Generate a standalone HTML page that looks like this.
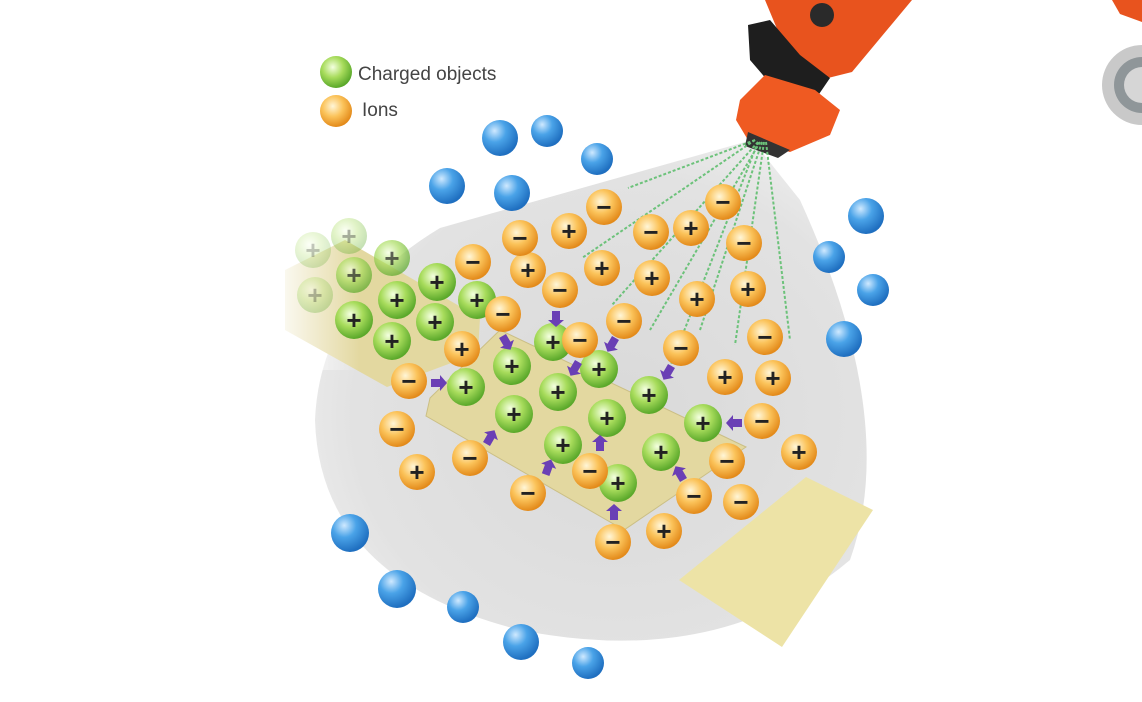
<!DOCTYPE html>
<html><head><meta charset="utf-8"><style>
html,body{margin:0;padding:0;background:#fff;}
svg{display:block}
</style></head><body>
<svg width="1142" height="702" viewBox="0 0 1142 702" xmlns="http://www.w3.org/2000/svg">
<defs>
<radialGradient id="gb" cx="35%" cy="30%" r="70%"><stop offset="0" stop-color="#cfe9ff"/><stop offset="0.45" stop-color="#4aa3e8"/><stop offset="1" stop-color="#1f6fc0"/></radialGradient>
<radialGradient id="gg" cx="40%" cy="35%" r="65%"><stop offset="0" stop-color="#f4ffe0"/><stop offset="0.5" stop-color="#a8dc5c"/><stop offset="1" stop-color="#5aa82a"/></radialGradient>
<radialGradient id="go" cx="40%" cy="35%" r="65%"><stop offset="0" stop-color="#fff6d8"/><stop offset="0.5" stop-color="#fbc35a"/><stop offset="1" stop-color="#e38a1a"/></radialGradient>
<radialGradient id="cone" cx="55%" cy="55%" r="60%"><stop offset="0" stop-color="#d9d9d9"/><stop offset="0.8" stop-color="#e2e2e2"/><stop offset="1" stop-color="#ececec"/></radialGradient>
<linearGradient id="fade" x1="0" x2="1"><stop offset="0" stop-color="#fff" stop-opacity="1"/><stop offset="1" stop-color="#fff" stop-opacity="0"/></linearGradient>
</defs>
<rect width="1142" height="702" fill="#fff"/>
<!-- cone -->
<path d="M752,140 L440,228 Q320,300 315,420 Q320,580 520,630 Q720,670 850,560 Q900,420 800,200 Z" fill="url(#cone)"/>
<!-- upper-left panel -->
<polygon points="285,270 345,240 480,318 478,353 387,387 285,330" fill="#e3d8a0"/>
<!-- main strip -->
<polygon points="426,416 430,398 500,330 746,447 624,530" fill="#e3d8a0" stroke="#cbbf85" stroke-width="1"/>
<!-- pad -->
<polygon points="679,580 806,477 873,510 782,647" fill="#ede3a6"/>
<rect x="270" y="200" width="90" height="170" fill="url(#fade)"/>
<!-- nozzle -->
<g>
<polygon points="765,0 912,0 852,72 820,80 790,60" fill="#e8531e"/>
<polygon points="748,25 770,20 800,55 830,78 815,100 780,95 750,60" fill="#1e1e1e"/>
<circle cx="822" cy="15" r="12" fill="#2a2a2a"/>
<polygon points="740,100 765,75 815,90 840,110 830,135 790,152 748,140 736,120" fill="#ef5a22"/>
<polygon points="748,132 790,150 778,158 745,146" fill="#333"/>
<polygon points="1112,0 1142,0 1142,22 1120,14" fill="#e8531e"/>
<circle cx="1142" cy="85" r="40" fill="#c9c9c9"/>
<circle cx="1142" cy="85" r="28" fill="#8f9699"/>
<circle cx="1142" cy="85" r="18" fill="#d6d6d6"/>
</g>
<!-- spray -->
<g stroke="#6cc27a" stroke-width="2" stroke-dasharray="3,2" fill="none">
<line x1="755" y1="140" x2="628" y2="188"/>
<line x1="755" y1="140" x2="582" y2="258"/>
<line x1="758" y1="142" x2="612" y2="305"/>
<line x1="760" y1="142" x2="650" y2="330"/>
<line x1="762" y1="142" x2="700" y2="330"/>
<line x1="764" y1="142" x2="735" y2="345"/>
<line x1="766" y1="142" x2="790" y2="340"/>
<line x1="758" y1="142" x2="668" y2="372"/>
</g>
<!-- legend -->
<circle cx="336" cy="72" r="16" fill="url(#gg)"/>
<circle cx="336" cy="111" r="16" fill="url(#go)"/>
<text x="358" y="80" font-family="Liberation Sans, sans-serif" font-size="19" fill="#444">Charged objects</text>
<text x="362" y="116" font-family="Liberation Sans, sans-serif" font-size="19" fill="#444">Ions</text>
<g id="balls" font-family="Liberation Sans, sans-serif" font-weight="bold" text-anchor="middle">
</g>
</svg>
<script>
const NS="http://www.w3.org/2000/svg",g=document.getElementById("balls");
function c(x,y,r,f,op){const e=document.createElementNS(NS,"circle");e.setAttribute("cx",x);e.setAttribute("cy",y);e.setAttribute("r",r);e.setAttribute("fill",f);if(op)e.setAttribute("opacity",op);g.appendChild(e);}
function t(x,y,s,op){const e=document.createElementNS(NS,"text");e.setAttribute("x",x);e.setAttribute("y",y+9);e.setAttribute("font-size",26);e.setAttribute("fill","#222");if(op)e.setAttribute("opacity",op);e.textContent=s;g.appendChild(e);}
[[500,138,18],[547,131,16],[597,159,16],[447,186,18],[512,193,18],[866,216,18],[829,257,16],[873,290,16],[844,339,18],[350,533,19],[397,589,19],[463,607,16],[521,642,18],[588,663,16]].forEach(b=>c(b[0],b[1],b[2],"url(#gb)"));
[[349,236,.35],[313,250,.25],[315,295,.3],[392,258,.7],[354,275,.7]].forEach(b=>{c(b[0],b[1],18,"url(#gg)",b[2]);t(b[0],b[1],"+",b[2]);});
[[437,282],[397,300],[477,300],[354,320],[435,322],[392,341],[553,342],[512,366],[599,369],[466,387],[558,392],[649,395],[514,414],[607,418],[703,423],[563,445],[661,452],[618,483]].forEach(b=>{c(b[0],b[1],19,"url(#gg)");t(b[0],b[1],"+");});
[[569,231],[691,228],[528,270],[602,268],[652,278],[748,289],[697,299],[462,349],[725,377],[773,378],[417,472],[799,452],[664,531]].forEach(b=>{c(b[0],b[1],18,"url(#go)");t(b[0],b[1],"+");});
[[604,207],[723,202],[520,238],[651,232],[744,243],[473,262],[560,290],[503,314],[624,321],[580,340],[681,348],[765,337],[409,381],[397,429],[762,421],[470,458],[727,461],[590,471],[528,493],[694,496],[741,502],[613,542]].forEach(b=>{c(b[0],b[1],18,"url(#go)");t(b[0],b[1],"\u2212");});
function arr(x,y,a){const e=document.createElementNS(NS,"polygon");e.setAttribute("points","-7,-4 2,-4 2,-8 9,0 2,8 2,4 -7,4");e.setAttribute("fill","#6a3fb5");e.setAttribute("transform",`translate(${x},${y}) rotate(${a})`);g.appendChild(e);}
[[438,383,0],[506,342,60],[556,318,90],[612,344,120],[575,368,120],[668,372,120],[490,438,-60],[548,468,-70],[600,444,-90],[614,513,-90],[735,423,180],[680,474,-120]].forEach(a=>arr(...a));
</script>
</body></html>
